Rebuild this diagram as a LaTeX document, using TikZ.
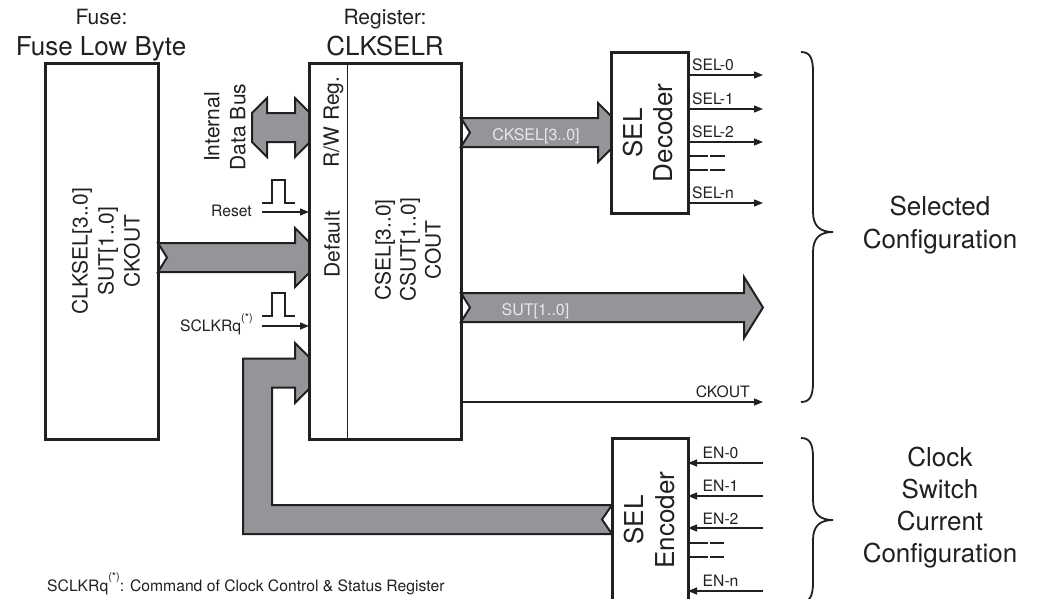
\documentclass[tikz,border=0pt]{standalone}
\usepackage{fontspec}
\setmainfont{TeX Gyre Heros}
\usetikzlibrary{arrows.meta}
\definecolor{busgrey}{RGB}{147,149,152}
\definecolor{ink}{RGB}{35,31,32}
\definecolor{buslabel}{RGB}{232,233,234}
\newcommand{\starsup}{\raisebox{10.5pt}{\fontsize{11}{12}\selectfont(*)}}
\begin{document}
\begin{tikzpicture}[x=1pt,y=-1pt,
  box/.style={draw=ink, line width=3pt, inner sep=0pt, outer sep=0pt},
  bus/.style={draw=ink, fill=busgrey, line width=2pt, line join=miter},
  sig/.style={draw=ink, line width=1.3pt, -{Triangle[length=9pt,width=7pt]}},
  thinline/.style={draw=ink, line width=1.3pt},
  divider/.style={draw=ink, line width=1pt},
  brace/.style={draw=ink, line width=1.8pt},
  fsmall/.style={font=\fontsize{15.7}{18}\selectfont, text=ink, inner sep=0pt},
  fmid/.style={font=\fontsize{21}{26}\selectfont, text=ink, inner sep=0pt},
  fbig/.style={font=\fontsize{26}{30}\selectfont, text=ink, inner sep=0pt},
  buslbl/.style={font=\fontsize{16}{19}\selectfont, text=buslabel, inner sep=0pt},
]
\useasboundingbox (0,0) rectangle (1042,598);
\clip (0,0) rectangle (1042,598);

% ---------- buses (drawn first, boxes overlay their ends)
% internal data bus (double arrow)
\draw[bus] (252,113) -- (267,98) -- (267,113) -- (295,113) -- (295,98) -- (309,112)
  -- (309,143) -- (295,157) -- (295,142) -- (267,142) -- (267,157) -- (252,142) -- cycle;
% fuse -> register default
\draw[bus] (158,243) -- (295,243) -- (295,228) -- (309,242) -- (309,273) -- (295,287)
  -- (295,272) -- (158,272) -- (167,257.5) -- cycle;
% CKSEL bus
\draw[bus] (461,118) -- (598,118) -- (598,103) -- (611,116) -- (611,149) -- (598,162)
  -- (598,147) -- (461,147) -- (470,132.5) -- cycle;
% SUT bus
\draw[bus] (461,293) -- (744,293) -- (744,277) -- (763,307.5) -- (744,338) -- (744,322)
  -- (461,322) -- (470,307.5) -- cycle;
% feedback bus from encoder
\draw[bus] (243,534) -- (243,358.5) -- (295,358.5) -- (295,343) -- (309,357) -- (309,389)
  -- (295,403) -- (295,387.5) -- (272,387.5) -- (272,505) -- (612,505) -- (602,519.5)
  -- (612,534) -- cycle;

% ---------- boxes
\node[box, minimum width=113pt, minimum height=376pt] (fuse) at (101.5,251) {};
\node[box, minimum width=152pt, minimum height=376pt] (reg) at (385,251) {};
\node[box, minimum width=77pt, minimum height=161pt] (dec) at (649.5,132.5) {};
\node[box, minimum width=76pt, minimum height=200pt] (enc) at (650,538) {};
\draw[divider] ([xshift=38pt]reg.north west) -- ([xshift=38pt]reg.south west);

% ---------- titles
\node[fmid, anchor=base] (fuset1) at (101.5,24) {Fuse:};
\node[fbig, anchor=base] (fuset2) at (101,55) {Fuse Low Byte};
\node[fmid, anchor=base] (regt1) at (385,24) {Register:};
\node[fbig, anchor=base] (regt2) at (385,55) {CLKSELR};

% ---------- box texts
\node[fmid, rotate=90, align=center] (fusetxt) at (106,251) {CLKSEL[3..0]\\SUT[1..0]\\CKOUT};
\node[fmid, rotate=90, align=center, font=\fontsize{21}{25}\selectfont] (regtxt) at (408,250) {CSEL[3..0]\\CSUT[1..0]\\COUT};
\node[fmid, rotate=90] (rwreg) at (333.5,122) {R/W Reg.};
\node[fmid, rotate=90] (deflt) at (332,244) {Default};
\node[fmid, rotate=90, align=center] (idb) at (225,127) {Internal\\Data Bus};
\node[fbig, rotate=90, align=center] (dectxt) at (648,133) {SEL\\Decoder};
\node[fbig, rotate=90, align=center, font=\fontsize{26}{31}\selectfont] (enctxt) at (649.5,520) {SEL\\Encoder};

% ---------- bus labels
\node[buslbl, anchor=base] (ckselbl) at (536,140) {CKSEL[3..0]};
\node[buslbl, anchor=base] (sutlbl) at (535.5,315) {SUT[1..0]};

% ---------- reset / SCLKRq
\draw[thinline] (262,203) -- (272,203) -- (272,180) -- (285,180) -- (285,203) -- (295,203);
\coordinate (rstS) at (262,212);
\draw[sig] (rstS) -- (reg.west |- rstS);
\node[fsmall, anchor=base east] (rstlbl) at (252,216.5) {Reset};

\draw[thinline] (262,316) -- (272,316) -- (272,293) -- (285,293) -- (285,316) -- (295,316);
\coordinate (sclS) at (262,326);
\draw[sig] (sclS) -- (reg.west |- sclS);
\node[fsmall, anchor=base east] (scllbl) at (253,331.5) {SCLKRq\starsup};

% ---------- CKOUT
\coordinate (ckoE) at (763,402);
\draw[sig] (reg.east |- ckoE) -- (ckoE);
\node[fsmall, anchor=base east] (ckolbl) at (750,397) {CKOUT};

% ---------- decoder outputs
\coordinate (sel0) at (763,75);
\coordinate (sel1) at (763,109);
\coordinate (sel2) at (763,142);
\coordinate (seln) at (763,203);
\draw[sig] (dec.east |- sel0) -- (sel0);
\draw[sig] (dec.east |- sel1) -- (sel1);
\draw[sig] (dec.east |- sel2) -- (sel2);
\draw[sig] (dec.east |- seln) -- (seln);
\node[fsmall, anchor=base west] (sel0l) at (692,70.5) {SEL-0};
\node[fsmall, anchor=base west] (sel1l) at (692,104) {SEL-1};
\node[fsmall, anchor=base west] (sel2l) at (692,137) {SEL-2};
\node[fsmall, anchor=base west] (selnl) at (692,198) {SEL-n};
\draw[thinline] (689,156) -- (707.5,156);
\draw[thinline] (709.5,156) -- (725,156);
\draw[thinline] (689,170) -- (707.5,170);
\draw[thinline] (709.5,170) -- (725,170);

% ---------- encoder inputs
\coordinate (en0) at (763,463);
\coordinate (en1) at (763,496);
\coordinate (en2) at (763,528);
\coordinate (enn) at (763,591);
\draw[sig] (en0) -- (enc.east |- en0);
\draw[sig] (en1) -- (enc.east |- en1);
\draw[sig] (en2) -- (enc.east |- en2);
\draw[sig] (enn) -- (enc.east |- enn);
\node[fsmall, anchor=base west] (en0l) at (702.5,458.5) {EN-0};
\node[fsmall, anchor=base west] (en1l) at (702.5,491.5) {EN-1};
\node[fsmall, anchor=base west] (en2l) at (702.5,524) {EN-2};
\node[fsmall, anchor=base west] (ennl) at (702.5,586) {EN-n};
\draw[thinline] (689,543) -- (707.5,543);
\draw[thinline] (709.5,543) -- (724,543);
\draw[thinline] (689,557) -- (707.5,557);
\draw[thinline] (709.5,557) -- (724,557);

% ---------- braces
\draw[brace] (801,52) .. controls (810,52) and (813,58) .. (813,72) -- (813,212)
  .. controls (813,226) and (820,232) .. (833,232)
  .. controls (820,232) and (813,238) .. (813,252) -- (813,382)
  .. controls (813,396) and (810,402) .. (801,402);
\draw[brace] (801,438) .. controls (810,438) and (813,444) .. (813,458) -- (813,500)
  .. controls (813,514) and (820,520) .. (833,520)
  .. controls (820,520) and (813,526) .. (813,540) -- (813,582)
  .. controls (813,596) and (810,602) .. (801,602);
\node[fbig, align=center, font=\fontsize{26}{33}\selectfont] (selcfg) at (940,224.7) {Selected\\Configuration};
\node[fbig, align=center, font=\fontsize{26}{32}\selectfont] (clkcfg) at (940,508) {Clock\\Switch\\Current\\Configuration};

% ---------- footnote
\node[fsmall, anchor=base west] (foot) at (47,591) {SCLKRq\starsup: Command of Clock Control \& Status Register};
\end{tikzpicture}
\end{document}
